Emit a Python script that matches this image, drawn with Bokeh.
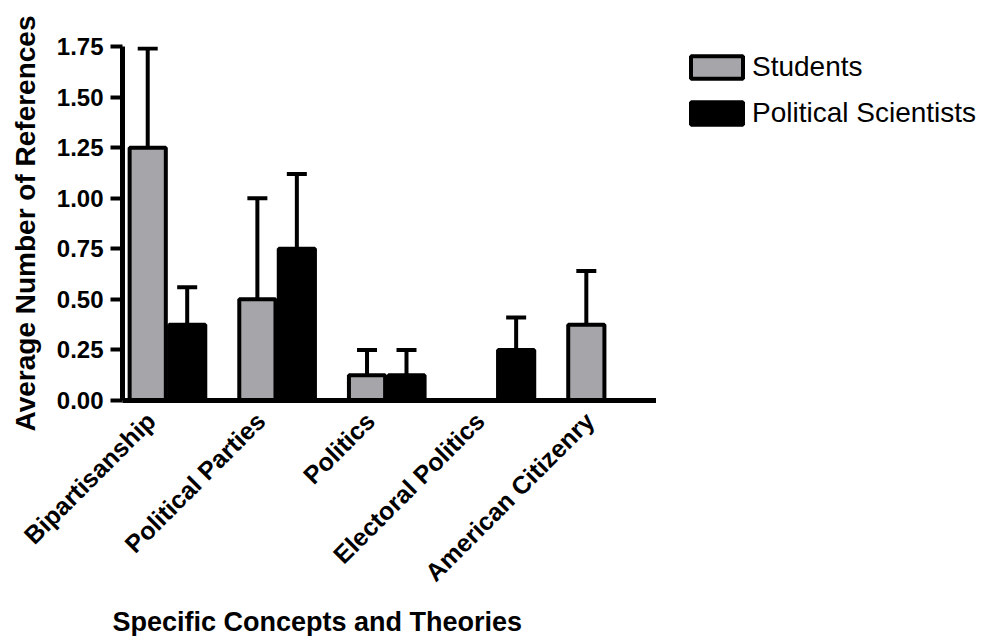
import math
import numpy as np
from bokeh.plotting import figure
from bokeh.layouts import row, column
from bokeh.models import (ColumnDataSource, Range1d, LinearAxis, FixedTicker,
                          CustomJSTickFormatter, NumeralTickFormatter, Whisker,
                          TeeHead, Legend, LegendItem, Label)
from bokeh.embed import file_html
from bokeh.resources import INLINE

# ---- data ----
categories = ["Bipartisanship", "Political Parties", "Politics",
              "Electoral Politics", "American Citizenry"]
students_mean = [1.25, 0.50, 0.125, 0.0, 0.375]
students_sem = [0.49, 0.50, 0.125, 0.0, 0.265]
scientists_mean = [0.375, 0.75, 0.125, 0.25, 0.0]
scientists_sem = [0.185, 0.37, 0.125, 0.16, 0.0]
y_ticks = [0.0, 0.25, 0.5, 0.75, 1.0, 1.25, 1.5, 1.75]
series_names = ["Students", "Political Scientists"]
x_title = "Specific Concepts and Theories"
y_title = "Average Number of References"

FONT = "Liberation Sans"
GRAY = "#a6a6aa"
DODGE = 0.18
BAR_W = 0.33
LABEL_SHIFT = 0.15

idx = np.arange(len(categories), dtype=float)

def clean(fig):
    fig.outline_line_color = None
    fig.xgrid.visible = False
    fig.ygrid.visible = False
    fig.background_fill_color = "white"
    fig.border_fill_color = "white"

p = figure(width=656, height=600, output_backend="svg", toolbar_location=None,
           x_range=Range1d(-0.41, 4.46), y_range=Range1d(0, 1.75),
           x_axis_type=None, min_border_left=122, min_border_right=0,
           min_border_top=46, min_border_bottom=200)
clean(p)

# bars
src_s = ColumnDataSource(dict(x=idx - DODGE, top=students_mean))
src_p = ColumnDataSource(dict(x=idx + DODGE, top=scientists_mean))
s_style = dict(fill_color=GRAY, line_color="black", line_width=4)
p_style = dict(fill_color="black", line_color="black", line_width=4)
p.vbar(x="x", top="top", bottom=0, width=BAR_W, source=src_s, **s_style)
p.vbar(x="x", top="top", bottom=0, width=BAR_W, source=src_p, **p_style)

# error bars (upper only)
def whisk(xs, means, sems):
    xs = np.asarray(xs); m = np.asarray(means); e = np.asarray(sems)
    k = e > 0
    src = ColumnDataSource(dict(x=xs[k], lower=m[k], upper=m[k] + e[k]))
    w = Whisker(base="x", lower="lower", upper="upper", source=src,
                dimension="height", line_color="black", line_width=4,
                upper_head=TeeHead(size=20, line_width=4, line_color="black"),
                lower_head=None, level="glyph")
    p.add_layout(w)

whisk(idx - DODGE, students_mean, students_sem)
whisk(idx + DODGE, scientists_mean, scientists_sem)

# y axis
ya = p.yaxis[0]
ya.ticker = FixedTicker(ticks=y_ticks)
ya.formatter = NumeralTickFormatter(format="0.00")
ya.minor_tick_line_color = None
ya.major_tick_in = 0
ya.major_tick_out = 12
ya.major_tick_line_width = 4
ya.axis_line_width = 5
ya.major_label_text_font = FONT
ya.major_label_text_font_style = "bold"
ya.major_label_text_font_size = "24px"
ya.major_label_text_color = "black"
ya.major_label_standoff = 7
ya.axis_label = y_title
ya.axis_label_text_font = FONT
ya.axis_label_text_font_style = "bold"
ya.axis_label_text_font_size = "28px"
ya.axis_label_text_color = "black"
ya.axis_label_standoff = 13

# x axis (labels rotated)
p.extra_x_ranges = {"lab": Range1d(-0.41 + LABEL_SHIFT, 4.46 + LABEL_SHIFT)}
xa = LinearAxis(x_range_name="lab")
xa.ticker = FixedTicker(ticks=list(range(len(categories))))
xa.formatter = CustomJSTickFormatter(args=dict(names=categories),
                                     code="return names[Math.round(tick)] || ''")
xa.major_label_orientation = math.pi / 4
xa.major_tick_line_color = None
xa.minor_tick_line_color = None
xa.axis_line_width = 5
xa.major_label_text_font = FONT
xa.major_label_text_font_style = "bold"
xa.major_label_text_font_size = "25px"
xa.major_label_text_color = "black"
xa.major_label_standoff = 10
p.add_layout(xa, "below")

# legend in a companion panel on the right (legend-only renderers, not drawn)
q = figure(width=329, height=600, output_backend="svg", toolbar_location=None,
           x_range=Range1d(0, 1), y_range=Range1d(0, 1),
           x_axis_type=None, y_axis_type=None,
           min_border_left=0, min_border_right=0, min_border_top=0,
           min_border_bottom=0)
clean(q)
q_s = q.vbar(x=[np.nan], top=[np.nan], width=BAR_W, **s_style)
q_p = q.vbar(x=[np.nan], top=[np.nan], width=BAR_W, **p_style)
legend = Legend(items=[LegendItem(label=series_names[0], renderers=[q_s]),
                       LegendItem(label=series_names[1], renderers=[q_p])],
                location=(28, 271), orientation="vertical",
                glyph_width=65, glyph_height=28, spacing=14,
                label_standoff=3, padding=0, margin=0,
                border_line_color=None, background_fill_alpha=0,
                label_text_font=FONT, label_text_font_size="28px",
                label_text_color="black")
q.add_layout(legend, "center")

# x-axis title strip below
t = figure(width=985, height=36, output_backend="svg", toolbar_location=None,
           x_range=Range1d(0, 985), y_range=Range1d(0, 36),
           x_axis_type=None, y_axis_type=None,
           min_border_left=0, min_border_right=0, min_border_top=0,
           min_border_bottom=0)
clean(t)
t.add_layout(Label(x=112, y=15, text=x_title, text_align="left",
                   text_baseline="alphabetic", text_font=FONT,
                   text_font_style="bold", text_font_size="27px",
                   text_color="black"))

layout = column(row(p, q, spacing=0), t, spacing=0)
open("out.html", "w").write(file_html(layout, INLINE))
